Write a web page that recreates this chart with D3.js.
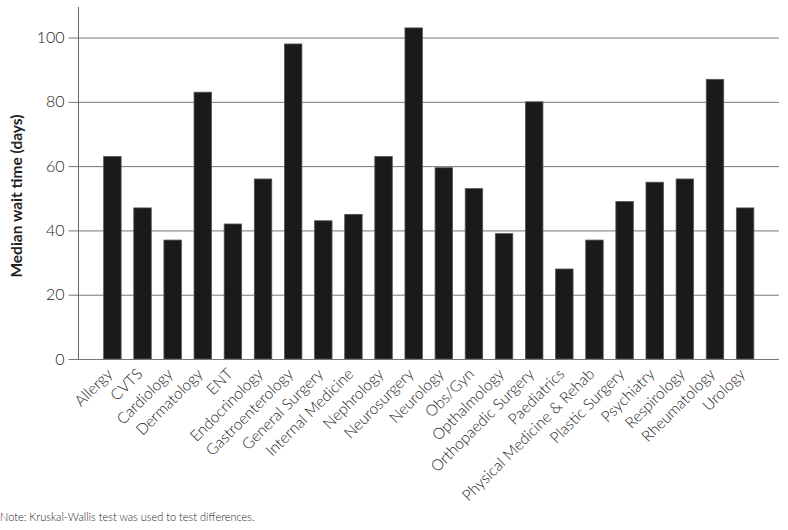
<!DOCTYPE html>
<html>
<head>
<meta charset="utf-8">
<script src="https://cdn.jsdelivr.net/npm/d3@7"></script>
<style>
  body{margin:0;background:#fff;}
  svg text{font-family:"Gill Sans","Lato",sans-serif;fill:#222;}
</style>
</head>
<body>
<svg id="chart"></svg>
<script>
// ---------- DATA ---------------------------------------------------------
const specialties = ['Allergy','CVTS','Cardiology','Dermatology','ENT','Endocrinology',
  'Gastroenterology','General Surgery','Internal Medicine','Nephrology','Neurosurgery',
  'Neurology','Obs/Gyn','Opthalmology','Orthopaedic Surgery','Paediatrics',
  'Physical Medicine & Rehab','Plastic Surgery','Psychiatry','Respirology','Rheumatology','Urology'];
const waitDays = [63,47,37,83,42,56,98,43,45,63,103,59.5,53,39,80,28,37,49,55,56,87,47];
const yTicks = [0,20,40,60,80,100];
</script>
<script>
// ---------- LAYOUT -------------------------------------------------------
const W = 788, H = 530,
      M = {top:7,right:9,bottom:171,left:78.5},
      IW = W-M.left-M.right,
      IH = H-M.top-M.bottom;

const svg = d3.select('#chart').attr('width',W).attr('height',H);
const g = svg.append('g').attr('transform',`translate(${M.left},${M.top})`);

const x = d3.scaleBand().domain(specialties).range([0,IW]).paddingInner(0.42).paddingOuter(0.835);
const y = d3.scaleLinear().domain([0,109.5]).range([IH,0]);

// gridlines + y ticks
const yAx = g.append('g').call(d3.axisLeft(y).tickValues(yTicks).tickSize(-IW).tickPadding(14).tickFormat(d3.format('d')));
yAx.select('.domain').remove();
yAx.selectAll('.tick line').attr('stroke','#777').attr('x1',-10);
yAx.selectAll('.tick text').attr('font-size',16).attr('font-weight',300).attr('fill','#333')
   .attr('font-family','"Gill Sans","Lato",sans-serif');

// y axis line
g.append('line').attr('x1',0).attr('x2',0).attr('y1',0).attr('y2',IH).attr('stroke','#666');

// bars
g.selectAll('rect.bar').data(specialties).enter().append('rect')
  .attr('class','bar')
  .attr('x',d=>x(d)).attr('width',x.bandwidth())
  .attr('y',(d,i)=>y(waitDays[i])).attr('height',(d,i)=>IH-y(waitDays[i]))
  .attr('fill','#1a1a1a').attr('stroke','#555').attr('stroke-width',0.8);

// baseline
g.append('line').attr('x1',0).attr('x2',IW).attr('y1',IH+0.5).attr('y2',IH+0.5).attr('stroke','#777');

// category labels
g.selectAll('text.cat').data(specialties).enter().append('text')
  .attr('class','cat')
  .attr('transform',d=>`translate(${x(d)+x.bandwidth()/2+1},${IH+16}) rotate(-45)`)
  .attr('text-anchor','end').attr('font-size',15.5).attr('font-weight',300)
  .text(d=>d);

// axis title
svg.append('text')
  .attr('transform',`translate(22,196) rotate(-90)`)
  .attr('text-anchor','middle').attr('font-size',15.5).attr('font-weight',700).attr('fill','#111')
  .text('Median wait time (days)');

// note
svg.append('text').attr('x',0).attr('y',521).attr('font-size',11).attr('font-weight',300)
  .text('Note: Kruskal-Wallis test was used to test differences.');
</script>
</body>
</html>
